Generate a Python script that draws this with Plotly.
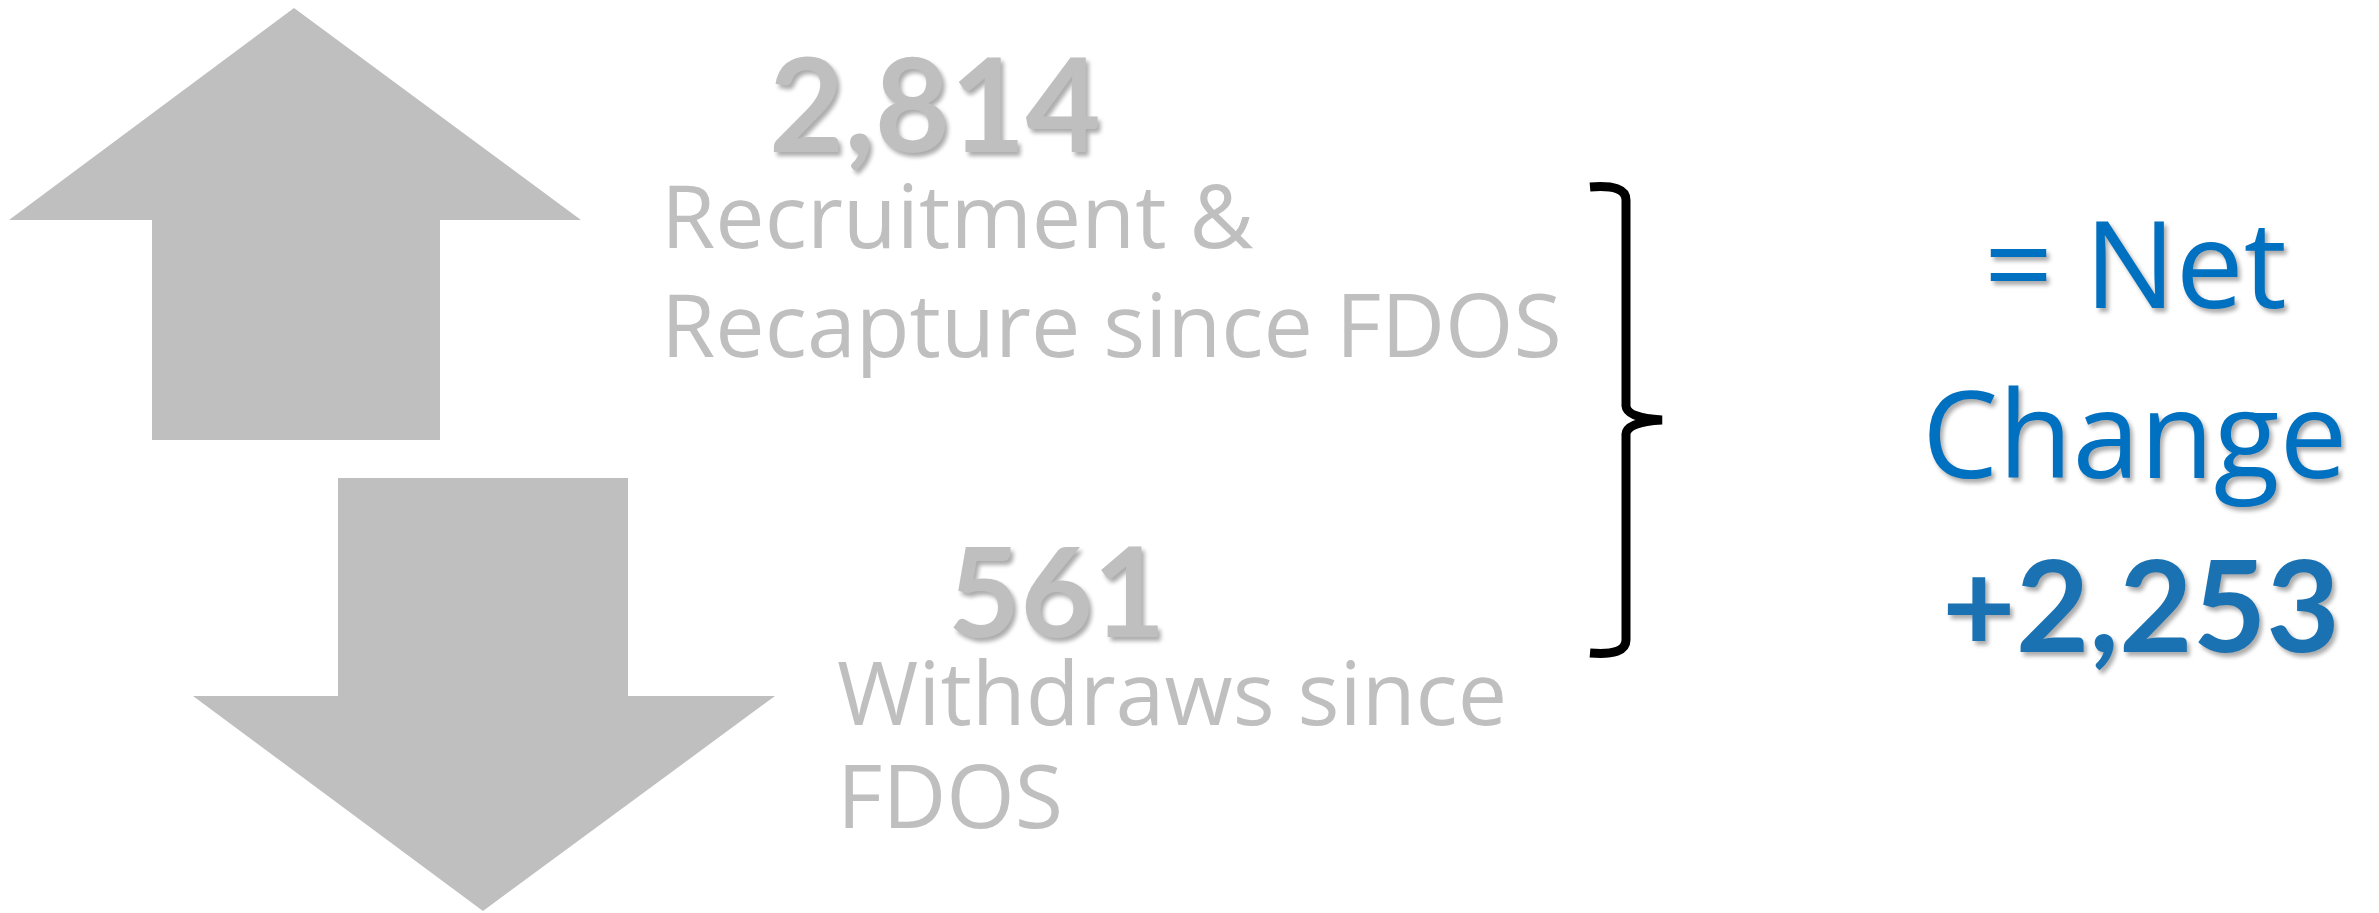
import plotly.graph_objects as go

# ---- data ----
values = [2814, 561]
value_labels = ["2,814", "561"]
descriptions = [["Recruitment &", "Recapture since FDOS"], ["Withdraws since", "FDOS"]]
net_label = ["= Net", "Change"]
net_value = 2253
net_value_label = "+2,253"

# ---- styles ----
W, H = 2379, 913
GREY = "#BFBFBF"
BLUE = "#0070C0"
BLUE2 = "#1A72B2"
BOLD_FONT = "Lato"
REG_FONT = "Open Sans"
SHADOW = "3px 4px 4px rgba(0,0,0,0.33)"

fig = go.Figure()
fig.add_trace(go.Scatter(x=[0, W], y=[0, H], mode="markers",
                         marker=dict(opacity=0), hoverinfo="skip", showlegend=False))

# arrows
up_arrow = "M 294 8 L 581 220 L 440 220 L 440 440 L 152 440 L 152 220 L 9 220 Z"
down_arrow = "M 338 478 L 628 478 L 628 696 L 775 696 L 483 911 L 193 696 L 338 696 Z"
for p in [up_arrow, down_arrow]:
    fig.add_shape(type="path", path=p, xref="x", yref="y",
                  fillcolor=GREY, line=dict(width=0), layer="below")

# brace
brace = ("M 1590 187 Q 1626 184 1626 200 L 1626 406 Q 1627 418 1662 420 "
         "Q 1627 422 1626 434 L 1626 640 Q 1626 656 1590 653")
fig.add_shape(type="path", path=brace, xref="x", yref="y",
              line=dict(color="black", width=9))

def ann(text, x, y, size, color, family, bold=False, xanchor="center", shadow=None):
    f = dict(family=family, size=size, color=color, weight=700 if bold else 400)
    if shadow:
        f["shadow"] = shadow
    fig.add_annotation(text=text, x=x, y=y, xref="x", yref="y",
                       xanchor=xanchor, yanchor="middle", showarrow=False, font=f)

# big numbers
ann(value_labels[0], 935, 152 - 0.387 * 130, 130, GREY, BOLD_FONT, bold=True, shadow=SHADOW)
ann(value_labels[1], 1057, 637 - 0.387 * 125, 125, GREY, BOLD_FONT, bold=True, shadow=SHADOW)

# descriptions
ann(descriptions[0][0], 659, 248 - 0.388 * 88, 88, GREY, REG_FONT, xanchor="left")
ann(descriptions[0][1], 659, 357 - 0.388 * 88, 88, GREY, REG_FONT, xanchor="left")
ann(descriptions[1][0], 835, 725 - 0.388 * 88, 88, GREY, REG_FONT, xanchor="left")
ann(descriptions[1][1], 835, 828 - 0.388 * 88, 88, GREY, REG_FONT, xanchor="left")

# net change
ann(net_label[0], 2135, 308 - 0.388 * 121, 121, BLUE, REG_FONT, shadow=SHADOW)
ann(net_label[1], 2135, 478 - 0.388 * 121, 121, BLUE, REG_FONT, shadow=SHADOW)
ann(net_value_label, 2141, 652 - 0.387 * 127, 127, BLUE2, BOLD_FONT, bold=True, shadow=SHADOW)

fig.update_layout(
    width=W, height=H, margin=dict(l=0, r=0, t=0, b=0),
    paper_bgcolor="white", plot_bgcolor="white", showlegend=False,
    xaxis=dict(range=[0, W], visible=False, fixedrange=True),
    yaxis=dict(range=[H, 0], visible=False, fixedrange=True),
)
fig.write_html("out.html", config=dict(displayModeBar=False),
               post_script="document.body.style.margin='0px';document.body.style.overflow='hidden';")
